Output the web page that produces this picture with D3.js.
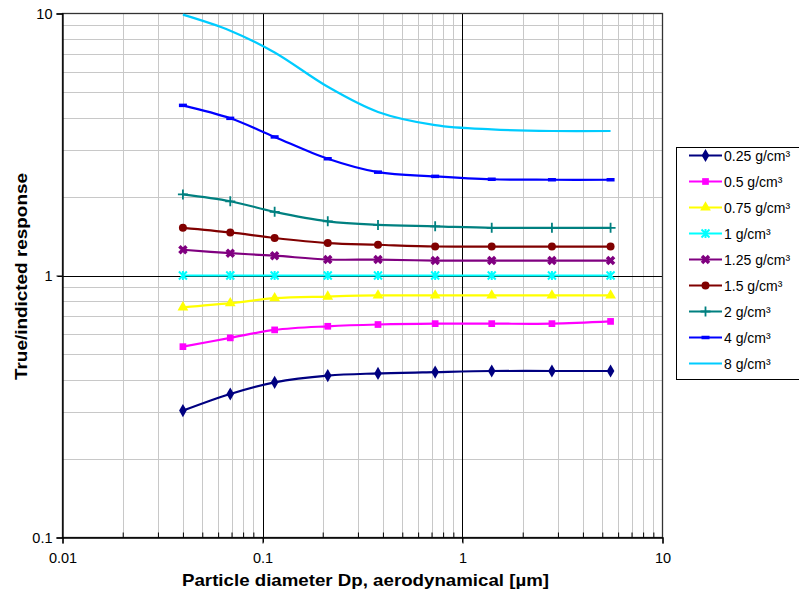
<!DOCTYPE html>
<html>
<head>
<meta charset="utf-8">
<script src="https://cdn.jsdelivr.net/npm/d3@7"></script>
<style>
  body { margin: 0; background: #fff; }
  svg { display: block; font-family: "Liberation Sans", Arial, sans-serif; }
</style>
</head>
<body>
<svg id="chart"></svg>
<script>
// particle diameters (um), same for every density curve
var diameters = [0.04, 0.069, 0.115, 0.212, 0.378, 0.73, 1.4, 2.8, 5.5];

var seriesNames = ["0.25 g/cm\u00b3", "0.5 g/cm\u00b3", "0.75 g/cm\u00b3", "1 g/cm\u00b3",
  "1.25 g/cm\u00b3", "1.5 g/cm\u00b3", "2 g/cm\u00b3", "4 g/cm\u00b3", "8 g/cm\u00b3"];

var d025 = [0.305, 0.353, 0.391, 0.415, 0.423, 0.428, 0.432, 0.432, 0.432];
var d05  = [0.535, 0.578, 0.62, 0.64, 0.65, 0.655, 0.655, 0.655, 0.668];
var d075 = [0.756, 0.784, 0.819, 0.831, 0.839, 0.839, 0.839, 0.839, 0.839];
var d1   = [1, 1, 1, 1, 1, 1, 1, 1, 1];
var d125 = [1.254, 1.217, 1.19, 1.151, 1.15, 1.14, 1.14, 1.14, 1.14];
var d15  = [1.52, 1.46, 1.39, 1.33, 1.31, 1.29, 1.29, 1.29, 1.29];
var d2   = [2.04, 1.92, 1.75, 1.61, 1.56, 1.54, 1.52, 1.52, 1.52];
var d4   = [4.46, 3.98, 3.38, 2.79, 2.48, 2.39, 2.33, 2.32, 2.32];
var d8   = [9.9, 8.6, 7.1, 5.25, 4.21, 3.75, 3.61, 3.56, 3.56];

var xTicks = [0.01, 0.1, 1, 10];
var yTicks = [0.1, 1, 10];

var allValues = [d025, d05, d075, d1, d125, d15, d2, d4, d8];
var colors = ["#000080", "#ff00ff", "#ffff00", "#00ffff", "#800080", "#800000", "#008080", "#0000ff", "#00ccff"];
var markers = ["diamond", "square", "triangle", "xstar", "xbox", "circle", "plus", "dash", "none"];

var width = 799, height = 596;
var plotL = 62.5, plotR = 662.5, plotT = 13.5, plotB = 537.5;

var svg = d3.select('#chart')
  .attr('width', width)
  .attr('height', height);

var x = d3.scaleLog().domain([0.01, 10]).range([plotL, plotR]);
var y = d3.scaleLog().domain([0.1, 10]).range([plotB, plotT]);

// minor tick values for grid
function minors(lo, hi) {
  var out = [];
  for (var p = lo; p < hi * 0.99; p *= 10) {
    for (var k = 2; k <= 9; k++) out.push(p * k);
  }
  return out;
}
var xMinor = minors(0.01, 10);
var yMinor = minors(0.1, 10);

var grid = svg.append('g');
grid.selectAll('.vx').data(xMinor).enter().append('line')
  .attr('x1', function(d){ return Math.round(x(d)) + 0.5; })
  .attr('x2', function(d){ return Math.round(x(d)) + 0.5; })
  .attr('y1', plotT).attr('y2', plotB)
  .attr('stroke', '#c8c8c8').attr('stroke-width', 1);
grid.selectAll('.hy').data(yMinor).enter().append('line')
  .attr('y1', function(d){ return Math.round(y(d)) + 0.5; })
  .attr('y2', function(d){ return Math.round(y(d)) + 0.5; })
  .attr('x1', plotL).attr('x2', plotR)
  .attr('stroke', '#c8c8c8').attr('stroke-width', 1);
// decade lines
grid.selectAll('.vmaj').data([0.1, 1]).enter().append('line')
  .attr('x1', function(d){ return Math.round(x(d)) + 0.5; })
  .attr('x2', function(d){ return Math.round(x(d)) + 0.5; })
  .attr('y1', plotT).attr('y2', plotB + 5)
  .attr('stroke', '#000').attr('stroke-width', 1);
grid.selectAll('.hmaj').data([1]).enter().append('line')
  .attr('y1', function(d){ return Math.round(y(d)) + 0.5; })
  .attr('y2', function(d){ return Math.round(y(d)) + 0.5; })
  .attr('x1', plotL - 5).attr('x2', plotR)
  .attr('stroke', '#000').attr('stroke-width', 1);

// plot frame
svg.append('rect')
  .attr('x', plotL).attr('y', plotT)
  .attr('width', plotR - plotL).attr('height', plotB - plotT)
  .attr('fill', 'none').attr('stroke', '#333').attr('stroke-width', 1.3);

// x axis: outward major ticks, inward minor ticks
var xAxis = svg.append('g')
  .attr('transform', 'translate(0,' + plotB + ')')
  .call(d3.axisBottom(x).tickValues(xTicks).tickSize(6).tickPadding(9)
    .tickFormat(function(d){ return String(d); }));
xAxis.select('.domain').attr('stroke', '#000').attr('stroke-width', 1.3);
xAxis.selectAll('text').attr('font-size', 14.5).attr('fill', '#000');
svg.append('g').attr('transform', 'translate(0,' + plotB + ')')
  .call(d3.axisTop(x).tickValues(xMinor).tickSize(5).tickFormat(''))
  .select('.domain').remove();

var yAxis = svg.append('g')
  .attr('transform', 'translate(' + plotL + ',0)')
  .call(d3.axisLeft(y).tickValues(yTicks).tickSize(6).tickPadding(4)
    .tickFormat(function(d){ return String(d); }));
yAxis.select('.domain').attr('stroke', '#000').attr('stroke-width', 1.3);
yAxis.selectAll('text').attr('font-size', 14.5).attr('fill', '#000');

// axis titles
svg.append('text')
  .attr('x', 182).attr('y', 586)
  .attr('font-size', 17).attr('font-weight', 'bold')
  .attr('textLength', 367).attr('lengthAdjust', 'spacingAndGlyphs')
  .text('Particle diameter Dp, aerodynamical [\u00b5m]');
svg.append('text')
  .attr('transform', 'translate(27,380) rotate(-90)')
  .attr('font-size', 16).attr('font-weight', 'bold')
  .attr('textLength', 207).attr('lengthAdjust', 'spacingAndGlyphs')
  .text('True/indicted response');

function drawMarker(g, type, color) {
  if (type == 'diamond') {
    g.append('path').attr('d', d3.symbol(d3.symbolDiamond, 50)()).attr('fill', color);
  } else if (type == 'square') {
    g.append('path').attr('d', d3.symbol(d3.symbolSquare, 45)()).attr('fill', color);
  } else if (type == 'triangle') {
    g.append('path').attr('d', d3.symbol(d3.symbolTriangle, 50)()).attr('fill', color);
  } else if (type == 'circle') {
    g.append('path').attr('d', d3.symbol(d3.symbolCircle, 50)()).attr('fill', color);
  } else if (type == 'xstar') {
    g.append('path').attr('d', 'M-4,-4L4,4M-4,4L4,-4M0,-4.5L0,4.5')
      .attr('stroke', color).attr('stroke-width', 2).attr('fill', 'none');
  } else if (type == 'xbox') {
    g.append('path').attr('d', 'M-3.5,-3.5L3.5,3.5M-3.5,3.5L3.5,-3.5')
      .attr('stroke', color).attr('stroke-width', 3.5).attr('fill', 'none');
  } else if (type == 'plus') {
    g.append('path').attr('d', 'M-5,0L5,0M0,-5L0,5')
      .attr('stroke', color).attr('stroke-width', 1.8).attr('fill', 'none');
  } else if (type == 'dash') {
    g.append('path').attr('d', 'M-4,0L4,0')
      .attr('stroke', color).attr('stroke-width', 3.5).attr('fill', 'none');
  }
}

// Excel-style smoothed lines
var line = d3.line()
  .curve(d3.curveCatmullRom.alpha(0.5))
  .x(function(d){ return x(d[0]); })
  .y(function(d){ return y(d[1]); });

allValues.forEach(function(vals, i) {
  var pts = diameters.map(function(dm, j){ return [dm, vals[j]]; });
  var g = svg.append('g');
  g.append('path').datum(pts)
    .attr('d', line)
    .attr('fill', 'none')
    .attr('stroke', colors[i])
    .attr('stroke-width', 2.2);
  g.selectAll('.m').data(pts).enter().append('g')
    .attr('transform', function(d){ return 'translate(' + x(d[0]) + ',' + y(d[1]) + ')'; })
    .each(function(){ drawMarker(d3.select(this), markers[i], colors[i]); });
});

// legend
var legend = svg.append('g');
legend.append('rect')
  .attr('x', 676.5).attr('y', 147.5)
  .attr('width', 140).attr('height', 232)
  .attr('fill', '#fff').attr('stroke', '#000').attr('stroke-width', 1);
seriesNames.forEach(function(name, i) {
  var yy = 155.5 + i * 26;
  var row = legend.append('g');
  row.append('line')
    .attr('x1', 689).attr('x2', 722).attr('y1', yy).attr('y2', yy)
    .attr('stroke', colors[i]).attr('stroke-width', 2.2);
  var mk = row.append('g').attr('transform', 'translate(705.5,' + yy + ')');
  drawMarker(mk, markers[i], colors[i]);
  row.append('text')
    .attr('x', 724).attr('y', yy + 5)
    .attr('font-size', 14).attr('fill', '#000')
    .text(name);
});
</script>
</body>
</html>
